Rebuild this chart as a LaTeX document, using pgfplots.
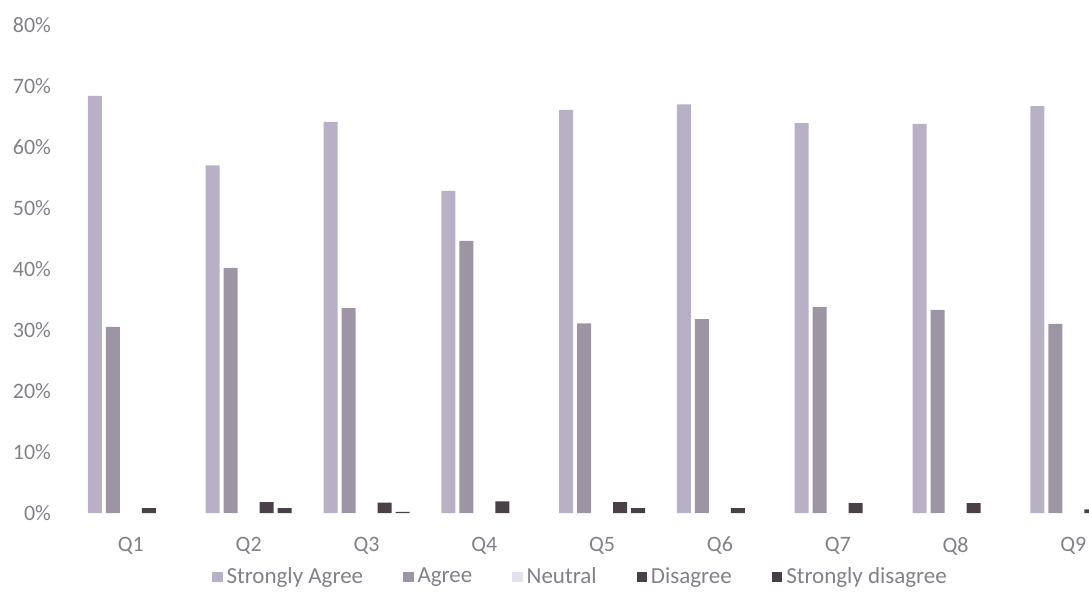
\documentclass[border=0pt]{standalone}
\usepackage{pgfplots}
\pgfplotsset{compat=1.18}
\usepackage{fontspec}
\setmainfont{Carlito}

\definecolor{sagree}{RGB}{184,176,196}
\definecolor{agree}{RGB}{158,149,164}
\definecolor{neutral}{RGB}{226,225,236}
\definecolor{disagree}{RGB}{74,64,72}
\definecolor{sdisagree}{RGB}{72,62,74}
\definecolor{txt}{RGB}{132,128,138}

\pgfplotsset{sq/.style={legend image code/.code={\fill[##1] (0pt,-2.6pt) rectangle (5.2pt,2.6pt);}}}

\begin{document}
\begin{tikzpicture}
\path[use as bounding box] (0,0) rectangle (544.5pt,306pt);
\begin{axis}[
  at={(36pt,49.5pt)}, anchor=south west,
  scale only axis, width=508.5pt, height=244pt,
  xmin=0.5, xmax=9.133, ymin=0, ymax=80,
  ybar=2pt, bar width=7pt,
  xtick={1,...,9}, xticklabels={Q1,Q2,Q3,Q4,Q5,Q6,Q7,Q8,Q9},
  ytick={0,10,...,80},
  yticklabels={0\%,10\%,20\%,30\%,40\%,50\%,60\%,70\%,80\%},
  axis line style={draw=none}, major tick length=0pt,
  tick label style={font=\fontsize{11}{13}\selectfont, text=txt},
  xticklabel style={anchor=center, yshift=-16.5pt},
  yticklabel style={xshift=-7pt},
  legend columns=-1,
  legend style={draw=none, fill=none, at={(0.501,-0.131)}, anchor=center,
    font=\fontsize{11.5}{13}\selectfont, text=txt,
    /tikz/every even column/.append style={column sep=18pt}},
]
\addplot[fill=sagree, draw=none, sq] coordinates {
  (1,68.4)(2,57.0)(3,64.1)(4,52.8)(5,66.1)(6,67.0)(7,63.9)(8,63.8)(9,66.7)};
\addplot[fill=agree, draw=none, sq] coordinates {
  (1,30.5)(2,40.2)(3,33.6)(4,44.6)(5,31.1)(6,31.8)(7,33.8)(8,33.3)(9,31.0)};
\addplot[fill=neutral, draw=none, sq] coordinates {
  (1,0)(2,0)(3,0)(4,0)(5,0)(6,0)(7,0)(8,0)(9,0)};
\addplot[fill=disagree, draw=none, sq] coordinates {
  (1,0.8)(2,1.8)(3,1.7)(4,1.9)(5,1.8)(6,0.8)(7,1.6)(8,1.6)(9,0.6)};
\addplot[fill=sdisagree, draw=none, sq] coordinates {
  (2,0.8)(3,0.2)(5,0.8)};
\legend{Strongly Agree,Agree,Neutral,Disagree,Strongly disagree}
\end{axis}
\end{tikzpicture}
\end{document}
